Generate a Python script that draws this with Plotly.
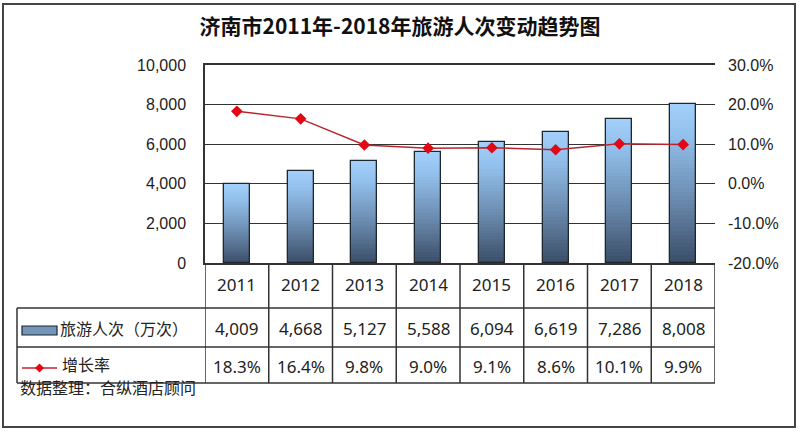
import plotly.graph_objects as go

years = ["2011", "2012", "2013", "2014", "2015", "2016", "2017", "2018"]
visitors = [4009, 4668, 5127, 5588, 6094, 6619, 7286, 8008]
growth = [18.3, 16.4, 9.8, 9.0, 9.1, 8.6, 10.1, 9.9]
visitor_labels = ["4,009", "4,668", "5,127", "5,588", "6,094", "6,619", "7,286", "8,008"]
growth_labels = ["18.3%", "16.4%", "9.8%", "9.0%", "9.1%", "8.6%", "10.1%", "9.9%"]
left_ticks = [0, 2000, 4000, 6000, 8000, 10000]
left_tick_labels = ["0", "2,000", "4,000", "6,000", "8,000", "10,000"]
right_ticks = [-0.2, -0.1, 0.0, 0.1, 0.2, 0.3]
right_tick_labels = ["-20.0%", "-10.0%", "0.0%", "10.0%", "20.0%", "30.0%"]
series_names = ["旅游人次（万次）", "增长率"]
title_text = "济南市2011年-2018年旅游人次变动趋势图"
source_text = "数据整理：合纵酒店顾问"

# pixel geometry helpers (layout only)
W, H = 800, 434
L, R, T, B = 205, 715, 65, 263
PW, PH = R - L, B - T

def px(x):
    return (x - L) / PW

def py(y):
    return (B - y) / PH

stops = [(0.0, (58, 78, 104)), (0.45, (112, 145, 182)), (0.8, (146, 192, 236)), (1.0, (162, 208, 250))]

def grad(t):
    for (t0, c0), (t1, c1) in zip(stops[:-1], stops[1:]):
        if t <= t1:
            f = (t - t0) / (t1 - t0) if t1 > t0 else 0
            return "rgb(%d,%d,%d)" % tuple(round(a + (b - a) * f) for a, b in zip(c0, c1))
    return "rgb(%d,%d,%d)" % stops[-1][1]

fig = go.Figure()
N = 40
BW = 0.41
for k in range(N):
    fig.add_trace(go.Bar(
        x=years, y=[v / N for v in visitors], base=[v * k / N for v in visitors],
        width=BW, marker=dict(color=grad((k + 0.5) / N), line=dict(width=0)),
        showlegend=False, hoverinfo="skip"))
fig.add_trace(go.Bar(
    x=years, y=visitors, width=BW, name=series_names[0],
    marker=dict(color="rgba(0,0,0,0)", line=dict(color="#1e2630", width=1.3)),
    showlegend=False))
fig.add_trace(go.Scatter(
    x=years, y=[g / 100 for g in growth], yaxis="y2", mode="lines+markers",
    name=series_names[1],
    line=dict(color="#b8262c", width=1.5),
    marker=dict(symbol="diamond", size=9, color="#e30613"),
    showlegend=False))

axis_font = dict(family="Liberation Sans, Arial", size=16, color="#222")
table_font = dict(family="Noto Sans, Noto Sans CJK SC", size=17, color="#222")
cjk_font = dict(family="Noto Sans CJK SC", size=16, color="#222")

fig.update_layout(
    width=W, height=H,
    margin=dict(l=L, r=W - R, t=T, b=H - B),
    paper_bgcolor="white", plot_bgcolor="white",
    barmode="overlay", bargap=0,
    title=dict(text="<b>" + title_text + "</b>", x=0.5, xanchor="center",
               y=1 - 27 / H, yanchor="middle",
               font=dict(family="Noto Sans CJK SC", size=21, color="#111")),
    xaxis=dict(type="category", showticklabels=False, ticks="",
               showline=True, linecolor="#333", linewidth=1.5, mirror=True,
               showgrid=False, range=[-0.5, 7.5]),
    yaxis=dict(range=[0, 10000], tickvals=left_ticks, ticktext=left_tick_labels,
               showgrid=True, gridcolor="#333", gridwidth=1.3,
               showline=True, linecolor="#333", linewidth=1.5,
               ticks="", ticklabelstandoff=14, tickfont=axis_font, zeroline=False),
    yaxis2=dict(range=[-0.2, 0.3], tickvals=right_ticks, ticktext=right_tick_labels,
                overlaying="y", side="right", showgrid=False, zeroline=False, ticks="",
                ticklabelstandoff=12, tickfont=axis_font),
    showlegend=False,
)

line_style = dict(color="#333", width=1.5)
shapes = []
# table horizontal lines
for yy in [308, 347, 383]:
    shapes.append(dict(type="line", xref="paper", yref="paper", x0=px(17), x1=1,
                       y0=py(yy), y1=py(yy), line=line_style))
# table vertical lines on category boundaries
for i in range(len(years) + 1):
    shapes.append(dict(type="line", xref="x", yref="paper", x0=i - 0.5, x1=i - 0.5,
                       y0=0, y1=py(383), line=line_style))
shapes.append(dict(type="line", xref="paper", yref="paper", x0=px(17), x1=px(17),
                   y0=py(308), y1=py(383), line=line_style))
# legend keys
shapes.append(dict(type="rect", xref="paper", yref="paper", x0=px(22), x1=px(57),
                   y0=py(335), y1=py(326), fillcolor="#7595b8",
                   line=dict(color="#1e2630", width=1.2)))
shapes.append(dict(type="line", xref="paper", yref="paper", x0=px(22), x1=px(57),
                   y0=py(368), y1=py(368), line=dict(color="#c8202a", width=1.5)))
cx, cy, d = 39.5, 368, 4.5
shapes.append(dict(type="path", xref="paper", yref="paper",
                   path="M %f %f L %f %f L %f %f L %f %f Z" % (
                       px(cx - d), py(cy), px(cx), py(cy - d), px(cx + d), py(cy), px(cx), py(cy + d)),
                   fillcolor="#e30613", line=dict(width=0)))
# outer border
shapes.append(dict(type="rect", xref="paper", yref="paper", x0=px(3), x1=px(795),
                   y0=py(427), y1=py(4), line=dict(color="#444", width=2)))
fig.update_layout(shapes=shapes)

ann = []
for i, yr in enumerate(years):
    ann.append(dict(x=i, y=py(284), xref="x", yref="paper", text=yr, showarrow=False,
                    font=table_font, xanchor="center", yanchor="middle"))
    ann.append(dict(x=i, y=py(328), xref="x", yref="paper", text=visitor_labels[i],
                    showarrow=False, font=table_font, xanchor="center", yanchor="middle"))
    ann.append(dict(x=i, y=py(366), xref="x", yref="paper", text=growth_labels[i],
                    showarrow=False, font=table_font, xanchor="center", yanchor="middle"))
ann.append(dict(x=px(58), y=py(328), xref="paper", yref="paper", text=series_names[0],
                showarrow=False, font=cjk_font, xanchor="left", yanchor="middle"))
ann.append(dict(x=px(60), y=py(364), xref="paper", yref="paper", text=series_names[1],
                showarrow=False, font=cjk_font, xanchor="left", yanchor="middle"))
ann.append(dict(x=px(18), y=py(387), xref="paper", yref="paper", text=source_text,
                showarrow=False, font=cjk_font, xanchor="left", yanchor="middle"))
fig.update_layout(annotations=ann)

fig.write_html("out.html", config={"displayModeBar": False},
               post_script="document.body.style.margin='0';")
